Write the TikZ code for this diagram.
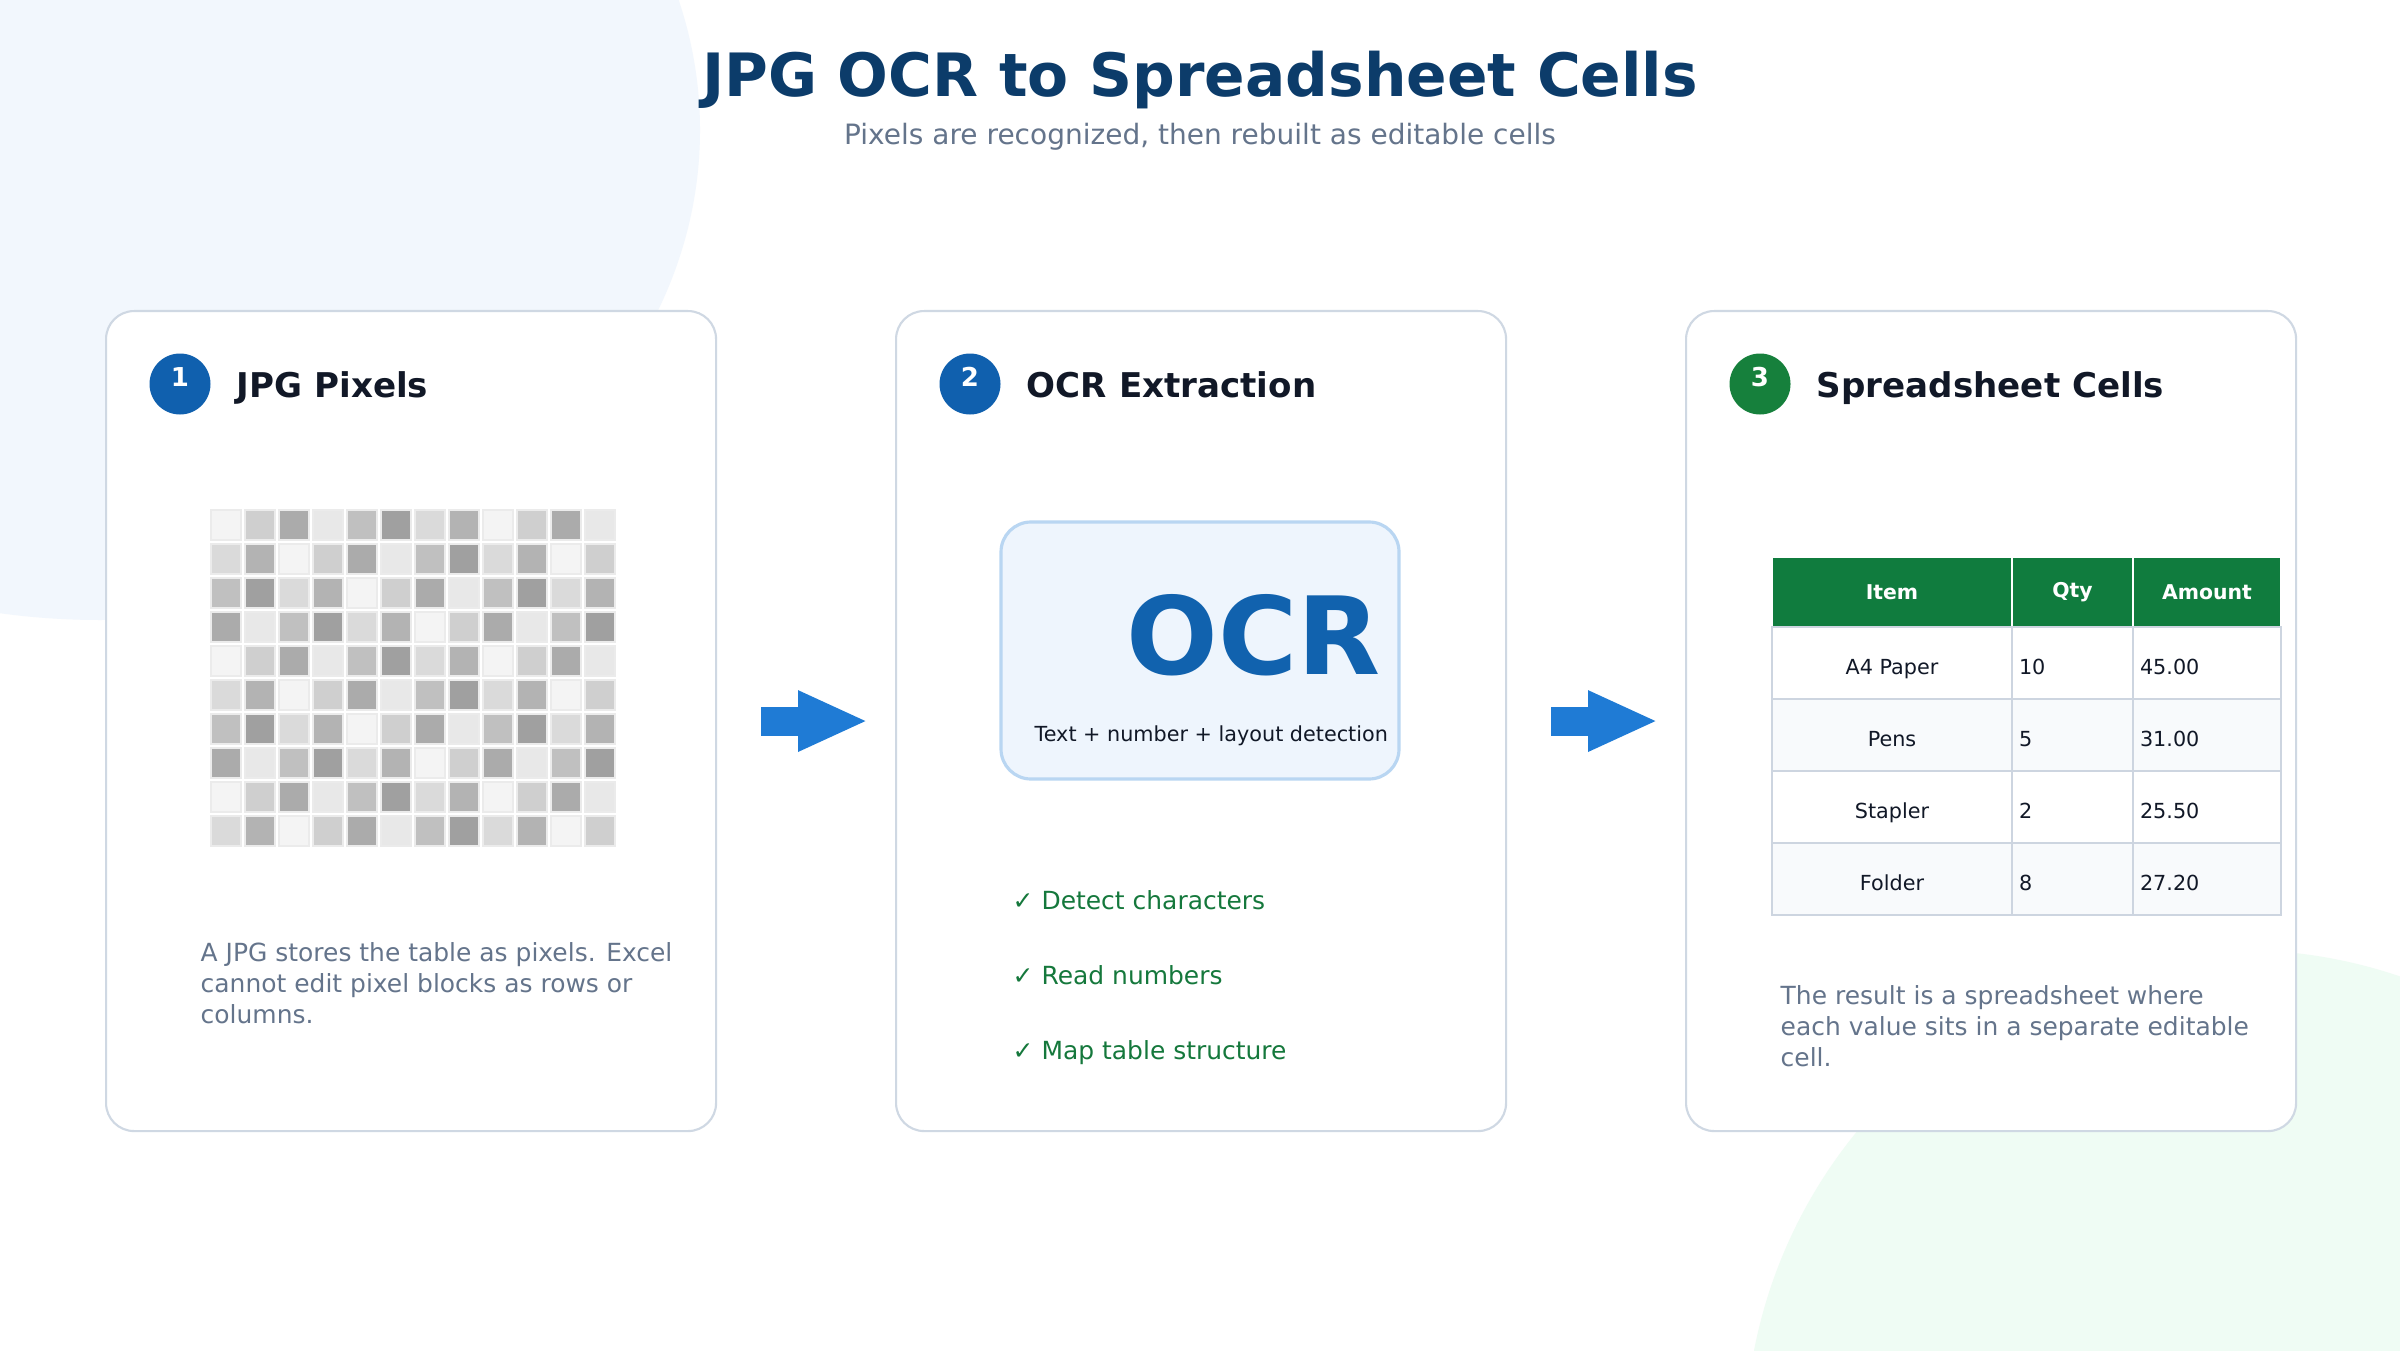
\documentclass[tikz,border=0pt]{standalone}
\usepackage{fontspec}
\setmainfont{DejaVu Sans}
\setsansfont{DejaVu Sans}
\usetikzlibrary{arrows.meta,positioning,calc}
\definecolor{bgBlue}{HTML}{F2F7FD}
\definecolor{bgGreen}{HTML}{EFFCF4}
\definecolor{titleNavy}{HTML}{0C3C6A}
\definecolor{muted}{HTML}{64748B}
\definecolor{ink}{HTML}{111827}
\definecolor{cardEdge}{HTML}{CFD8E3}
\definecolor{stepBlue}{HTML}{1060AE}
\definecolor{stepGreen}{HTML}{16803C}
\definecolor{flowBlue}{HTML}{1F7BD5}
\definecolor{ocrFill}{HTML}{EEF5FD}
\definecolor{ocrEdge}{HTML}{B9D6F2}
\definecolor{ocrBlue}{HTML}{1162AE}
\definecolor{checkGreen}{HTML}{15783C}
\definecolor{sheetGreen}{HTML}{107C3E}
\definecolor{sheetLine}{HTML}{CDD5E0}
\definecolor{rowTint}{HTML}{F8FAFC}
\definecolor{pixEdge}{HTML}{EBEBEB}
\definecolor{pix0}{HTML}{F4F4F4}
\definecolor{pix1}{HTML}{CFCFCF}
\definecolor{pix2}{HTML}{ABABAB}
\definecolor{pix3}{HTML}{E8E8E8}
\definecolor{pix4}{HTML}{C0C0C0}
\definecolor{pix5}{HTML}{A0A0A0}
\definecolor{pix6}{HTML}{DADADA}
\definecolor{pix7}{HTML}{B3B3B3}
\newcommand{\setfs}[2]{\fontsize{#1}{#2}\selectfont}

\begin{document}
\begin{tikzpicture}[
  font=\sffamily,
  card/.style={draw=cardEdge, fill=white, rounded corners=0.28cm, line width=0.6pt, minimum width=6.1cm, minimum height=8.2cm, anchor=north west},
  badge/.style={circle, minimum size=0.61cm, inner sep=0pt, text depth=0.7ex, text=white, font=\sffamily\bfseries\setfs{7.4}{9}},
  cardtitle/.style={inner sep=0pt, anchor=base west, text=ink, font=\sffamily\bfseries\setfs{9.7}{12}},
  body/.style={inner sep=0pt, anchor=base west, align=left, text=muted, font=\sffamily\setfs{7.1}{8.8}},
  check/.style={inner sep=0pt, anchor=base west, text=checkGreen, font=\sffamily\setfs{7.1}{8.8}},
  flow/.style={-{Triangle[length=7mm,width=5.6mm]}, line width=2.9mm, draw=flowBlue},
  headcell/.style={draw=white, fill=sheetGreen, line width=0.6pt, outer sep=0pt, minimum height=0.70cm, inner sep=0pt, text=white, font=\sffamily\bfseries\setfs{5.8}{7}},
  cell/.style={draw=sheetLine, line width=0.6pt, outer sep=0pt, minimum height=0.72cm, inner sep=0pt, text height=1.5ex, text depth=0.3ex, text=ink, font=\sffamily\setfs{5.9}{7}}
]

% background
\fill[white] (0,0) rectangle (24,13.5);
\useasboundingbox (0,0) rectangle (24,13.5);
\begin{scope}
  \clip (0,0) rectangle (24,13.5);
  \fill[bgBlue] (1.00,12.20) ellipse [x radius=6.0, y radius=4.9];
  \fill[bgGreen] (22.40,-0.95) circle [radius=4.95];
\end{scope}

% title
\node[inner sep=0pt, anchor=base, text=titleNavy, font=\sffamily\bfseries\setfs{17.0}{20}] (title) at (12.0,12.53) {JPG OCR to Spreadsheet Cells};
\node[inner sep=0pt, anchor=base, text=muted, font=\sffamily\setfs{7.97}{10}] (sub) at (12.0,12.05) {Pixels are recognized, then rebuilt as editable cells};

% ------------------------------------------------------------------
% Card 1: JPG pixels
% ------------------------------------------------------------------
\node[card] (p1) at (1.05,10.40) {};
\node[badge, fill=stepBlue] (b1) at ($(p1.north west)+(0.75,-0.74)$) {1};
\node[cardtitle] (t1) at ([xshift=0.25cm, yshift=-0.13cm]b1.east) {JPG Pixels};

\foreach \i in {0,...,9} {
  \foreach \j in {0,...,11} {
    \pgfmathtruncatemacro\k{mod(\j+6*\i,8)}
    \filldraw[fill=pix\k, draw=pixEdge, line width=0.3pt] (2.11+0.34*\j,8.40-0.34*\i) rectangle ++(0.30,-0.30);
  }
}

\node[body] (d1) at (2.00,3.27) {A JPG stores the table as pixels. Excel\\cannot edit pixel blocks as rows or\\columns.};

% ------------------------------------------------------------------
% Card 2: OCR extraction
% ------------------------------------------------------------------
\node[card] (p2) at (8.95,10.40) {};
\node[badge, fill=stepBlue] (b2) at ($(p2.north west)+(0.75,-0.74)$) {2};
\node[cardtitle] (t2) at ([xshift=0.25cm, yshift=-0.13cm]b2.east) {OCR Extraction};

\node[draw=ocrEdge, fill=ocrFill, line width=0.9pt, rounded corners=0.3cm, minimum width=3.98cm, minimum height=2.57cm] (ocrbox) at (12.00,6.995) {};
\node[inner sep=0pt, anchor=base east, text=ocrBlue, font=\sffamily\bfseries\setfs{30.7}{34}] (ocr) at ($(ocrbox.south east)+(-0.19,1.06)$) {OCR};
\node[inner sep=0pt, anchor=base east, text=ink, font=\sffamily\setfs{5.9}{7}] (cap) at ($(ocrbox.south east)+(-0.12,0.39)$) {Text + number + layout detection};

\node[check] (c1) at (10.12,4.41) {✓ Detect characters};
\node[check] (c2) at (10.12,3.66) {✓ Read numbers};
\node[check] (c3) at (10.12,2.91) {✓ Map table structure};

% ------------------------------------------------------------------
% Card 3: spreadsheet cells
% ------------------------------------------------------------------
\node[card] (p3) at (16.85,10.40) {};
\node[badge, fill=stepGreen] (b3) at ($(p3.north west)+(0.75,-0.74)$) {3};
\node[cardtitle] (t3) at ([xshift=0.25cm, yshift=-0.13cm]b3.east) {Spreadsheet Cells};

\node[headcell, minimum width=2.40cm, anchor=north west] (hItem) at (17.72,7.93) {Item};
\node[headcell, minimum width=1.21cm, right=0pt of hItem] (hQty) {Qty};
\node[headcell, minimum width=1.48cm, right=0pt of hQty] (hAmt) {Amount};

\foreach \thing/\qty/\amt/\tint [count=\r] in {A4 Paper/10/45.00/white, Pens/5/31.00/rowTint, Stapler/2/25.50/white, Folder/8/27.20/rowTint} {
  \node[cell, fill=\tint, minimum width=2.40cm, anchor=north west] (item\r) at ($(hItem.south west)+(0,0.72-0.72*\r)$) {\thing};
  \node[cell, fill=\tint, minimum width=1.21cm, text width=1.07cm, inner xsep=0.07cm, align=left, right=0pt of item\r] (qty\r) {\qty};
  \node[cell, fill=\tint, minimum width=1.48cm, text width=1.34cm, inner xsep=0.07cm, align=left, right=0pt of qty\r] (amt\r) {\amt};
}

\node[body] (d3) at (17.80,2.84) {The result is a spreadsheet where\\each value sits in a separate editable\\cell.};

% flow arrows
\draw[flow, shorten <=0.44cm, shorten >=0.27cm] (p1) -- (p2);
\draw[flow, shorten <=0.44cm, shorten >=0.27cm] (p2) -- (p3);

\end{tikzpicture}
\end{document}
